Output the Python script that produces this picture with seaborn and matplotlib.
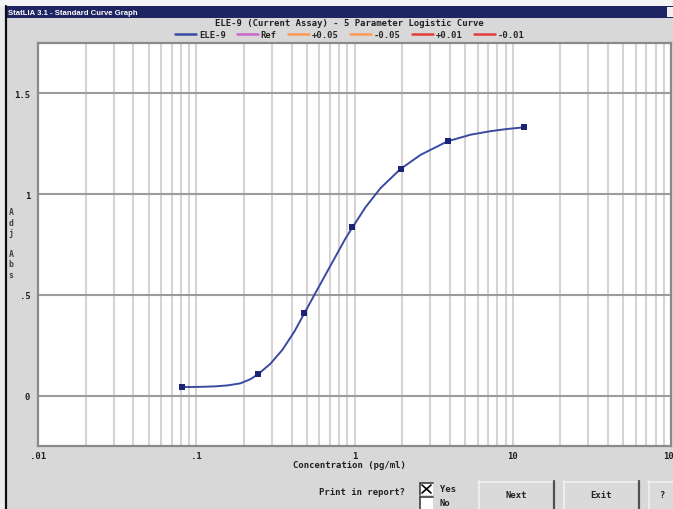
import numpy as np
import pandas as pd
import matplotlib
matplotlib.use("Agg")
import matplotlib.pyplot as plt
from matplotlib.patches import Rectangle
from matplotlib.lines import Line2D
import seaborn as sns

# ---------------- data ----------------
std_conc = [0.0815, 0.247, 0.483, 0.971, 1.955, 3.88, 11.74]
std_abs = [0.043, 0.108, 0.410, 0.835, 1.125, 1.263, 1.332]

curve_conc = [0.0815, 0.106, 0.132, 0.159, 0.190, 0.220, 0.247, 0.294, 0.350, 0.417,
              0.483, 0.558, 0.705, 0.877, 0.971, 1.174, 1.461, 1.955, 2.617, 3.88,
              5.423, 7.258, 9.03, 11.74]
curve_abs = [0.0425, 0.0435, 0.046, 0.051, 0.061, 0.0815, 0.1075, 0.158, 0.227, 0.318,
             0.410, 0.500, 0.645, 0.780, 0.835, 0.935, 1.030, 1.125, 1.195, 1.2625,
             1.295, 1.3125, 1.3225, 1.3315]

legend_names = ["ELE-9", "Ref", "+0.05", "-0.05", "+0.01", "-0.01"]
legend_colors = ["#3a4aa0", "#cc66cc", "#ff9955", "#ff9955", "#e23c3c", "#e23c3c"]

x_tick_vals = [0.01, 0.1, 1, 10, 100]
x_tick_labels = [".01", ".1", "1", "10", "100"]
y_tick_vals = [0, 0.5, 1, 1.5]
y_tick_labels = ["0", ".5", "1", "1.5"]

title = "ELE-9 (Current Assay) - 5 Parameter Logistic Curve"
window_title = "StatLIA 3.1 - Standard Curve Graph"

# ---------------- figure ----------------
sns.set_style("white")
plt.rcParams["font.family"] = ["DejaVu Sans Mono", "DejaVu Sans"]
W, H = 673, 510
BG = "#d8d8d8"
fig = plt.figure(figsize=(W / 100, H / 100), dpi=100, facecolor=BG)
FS = 6.4


def fx(px):
    return px / W


def fy(py):
    return 1 - py / H


def rect(x0, y0, x1, y1, **kw):
    fig.add_artist(Rectangle((fx(x0), fy(y1)), fx(x1) - fx(x0), fy(y0) - fy(y1),
                             transform=fig.transFigure, **kw))


def vline(x, y0, y1, **kw):
    fig.add_artist(Line2D([fx(x), fx(x)], [fy(y0), fy(y1)], transform=fig.transFigure, **kw))


def hline(y, x0, x1, **kw):
    fig.add_artist(Line2D([fx(x0), fx(x1)], [fy(y), fy(y)], transform=fig.transFigure, **kw))


# outer margin / window frame
rect(0, 0, 6, H, facecolor="#ececec", edgecolor="none")
rect(0, 0, W, 7, facecolor="#f4f4f4", edgecolor="none")
rect(5, 7, W, 19, facecolor="#1f2463", edgecolor="none")
vline(6, 7, H, color="#101010", lw=1.6)
fig.text(fx(8), fy(13.5), window_title, color="white", fontsize=5.6, fontweight="bold",
         family="Liberation Sans", ha="left", va="center")
rect(667, 8, 673, 18, facecolor="#f0f0f0", edgecolor="none")

# title and legend
fig.text(fx(349), fy(24), title, fontsize=FS, fontweight="bold", ha="center", va="center",
         color="#202020")
handles = [Line2D([], [], color=c, lw=1.8) for c in legend_colors]
fig.legend(handles, legend_names, loc="center", bbox_to_anchor=(fx(350), fy(36)), ncol=6,
           frameon=False, prop={"weight": "bold", "size": FS},
           handlelength=2.3, handletextpad=0.35, columnspacing=1.3, borderpad=0)

# ---------------- axes ----------------
ax = fig.add_axes([fx(38), fy(447), fx(671) - fx(38), fy(44) - fy(447)])
ax.set_facecolor("white")
ax.set_xscale("log")
ax.set_xlim(0.01, 100)
ax.set_ylim(-0.25, 1.75)

# vertical log grid (1..9 x 10^k)
for k in range(-2, 2):
    for m in range(1, 10):
        v = m * 10.0 ** k
        if 0.01 < v < 100:
            ax.axvline(v, color="#d4d4d4", lw=1.5, zorder=0.5)
ax.set_yticks(y_tick_vals)
ax.set_yticklabels(y_tick_labels)
ax.yaxis.grid(True, color="#9c9c9c", lw=1.5, zorder=0.6)
ax.set_axisbelow(True)

ax.set_xticks(x_tick_vals)
ax.set_xticklabels(x_tick_labels)
ax.xaxis.set_minor_locator(matplotlib.ticker.FixedLocator(10 ** np.arange(-2, 2.001, 0.2)))
ax.xaxis.set_minor_formatter(matplotlib.ticker.NullFormatter())
ax.tick_params(axis="x", which="both", direction="out", length=2, width=1, color="#606060",
               pad=1.5, labelsize=FS)
ax.tick_params(axis="y", which="major", direction="out", length=4, width=1, color="#808080",
               pad=1.5, labelsize=FS)
for lab in ax.get_xticklabels() + ax.get_yticklabels():
    lab.set_fontweight("bold")
    lab.set_color("#202020")
for s in ax.spines.values():
    s.set_color("#8a8a8a")
    s.set_linewidth(1.6)

curve_df = pd.DataFrame({"conc": curve_conc, "abs": curve_abs})
std_df = pd.DataFrame({"conc": std_conc, "abs": std_abs})
sns.lineplot(data=curve_df, x="conc", y="abs", sort=False, estimator=None, ax=ax,
             color="#3a4aa0", lw=1.4, zorder=3, solid_joinstyle="round")
sns.scatterplot(data=std_df, x="conc", y="abs", marker="s", s=16, color="#1c2478",
                linewidth=0, ax=ax, zorder=4)
ax.set_xlabel("")
ax.set_ylabel("")

# axis labels
fig.text(fx(349), fy(466), "Concentration (pg/ml)", fontsize=FS, fontweight="bold",
         ha="center", va="center", color="#202020")
fig.text(fx(11), fy(244), "A\nd\nj\n\nA\nb\ns", fontsize=5.9, fontweight="bold",
         ha="center", va="center", linespacing=1.2, color="#404040")

# ---------------- bottom controls ----------------
fig.text(fx(405), fy(493), "Print in report?", fontsize=FS, fontweight="bold",
         ha="right", va="center", color="#202020")
# checkboxes
rect(420, 484, 433, 496, facecolor="white", edgecolor="none")
hline(484, 420, 433, color="#404040", lw=1.2)
vline(420, 484, 496, color="#404040", lw=1.2)
fig.add_artist(Line2D([fx(422), fx(431)], [fy(486), fy(494)], transform=fig.transFigure,
                      color="black", lw=1.2))
fig.add_artist(Line2D([fx(422), fx(431)], [fy(494), fy(486)], transform=fig.transFigure,
                      color="black", lw=1.2))
rect(420, 498, 433, 510, facecolor="white", edgecolor="none")
hline(498, 420, 433, color="#404040", lw=1.2)
vline(420, 498, 510, color="#404040", lw=1.2)
fig.text(fx(440), fy(490), "Yes", fontsize=FS, fontweight="bold", ha="left", va="center",
         color="#202020")
fig.text(fx(440), fy(504), "No", fontsize=FS, fontweight="bold", ha="left", va="center",
         color="#202020")

# buttons
for x0, x1, label in [(478, 554, "Next"), (563, 639, "Exit"), (648, 690, "?")]:
    rect(x0, 482, x1, H, facecolor="#dadada", edgecolor="none")
    hline(482.5, x0, x1, color="#f2f2f2", lw=1.2)
    vline(x0 + 0.5, 482, H, color="#f2f2f2", lw=1.2)
    vline(x1, 482, H, color="#505050", lw=1.6)
    cx = (x0 + x1) / 2 if label != "?" else 662
    fig.text(fx(cx), fy(496), label, fontsize=FS, fontweight="bold", ha="center",
             va="center", color="#202020")

fig.savefig("out.png", dpi=100, facecolor=BG)
